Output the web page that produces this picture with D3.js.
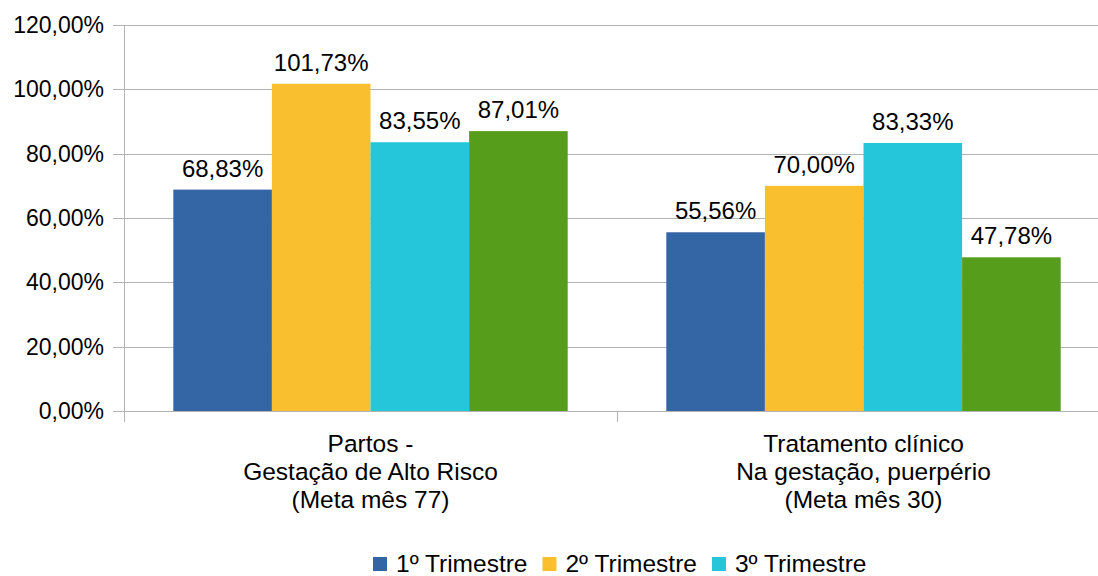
<!DOCTYPE html>
<html>
<head>
<meta charset="utf-8">
<script src="https://cdn.jsdelivr.net/npm/d3@7"></script>
<style>
  body { margin: 0; background: #fff; }
  svg { display: block; font-family: 'Liberation Sans', Arial, sans-serif; }
</style>
</head>
<body>
<svg width="1098" height="576"></svg>
<script>
// chart data
const categories = [
  ['Partos -', 'Gestação de Alto Risco', '(Meta mês 77)'],
  ['Tratamento clínico', 'Na gestação, puerpério', '(Meta mês 30)'],
]
const seriesNames = ['1º Trimestre', '2º Trimestre', '3º Trimestre', '4º Trimestre']
const seriesColors = ['#3465a4', '#f9bf2e', '#26c6da', '#579d1c']
const values = [
  [68.83, 101.73, 83.55, 87.01],
  [55.56, 70.0, 83.33, 47.78],
]
const yTicks = [0, 20, 40, 60, 80, 100, 120]
const legendItems = [0, 1, 2] // the 4th series has no legend entry

const svg = d3.select('svg')
const fmt = (v) => v.toFixed(2).replace('.', ',') + '%'

const plotLeft = 124,
  plotRight = 1110,
  plotTop = 25,
  plotBottom = 411

const y = d3.scaleLinear().domain([0, 120]).range([plotBottom, plotTop])
const x0 = d3
  .scaleBand()
  .domain(d3.range(categories.length))
  .range([plotLeft, plotRight])
  .paddingInner(0.2)
  .paddingOuter(0.1)
const x1 = d3
  .scaleBand()
  .domain(d3.range(seriesNames.length))
  .range([0, x0.bandwidth()])

// gridlines + y labels
const grid = svg.append('g')
grid
  .selectAll('line')
  .data(yTicks)
  .enter()
  .append('line')
  .attr('x1', plotLeft - 11)
  .attr('x2', plotRight)
  .attr('y1', (d) => Math.round(y(d)) + 0.5)
  .attr('y2', (d) => Math.round(y(d)) + 0.5)
  .attr('stroke', '#b3b3b3')
  .attr('stroke-width', 1)

grid
  .selectAll('text')
  .data(yTicks)
  .enter()
  .append('text')
  .attr('x', plotLeft - 20)
  .attr('y', (d) => y(d) + 8)
  .attr('text-anchor', 'end')
  .attr('font-size', '23px')
  .attr('fill', '#000')
  .text((d) => fmt(d))

// bars
const groups = svg
  .append('g')
  .selectAll('g')
  .data(values)
  .enter()
  .append('g')
  .attr('transform', (d, i) => `translate(${x0(i)},0)`)

groups
  .selectAll('rect')
  .data((d) => d)
  .enter()
  .append('rect')
  .attr('x', (d, j) => x1(j))
  .attr('width', x1.bandwidth())
  .attr('y', (d) => y(d))
  .attr('height', (d) => plotBottom - y(d))
  .attr('fill', (d, j) => seriesColors[j])

groups
  .selectAll('text')
  .data((d) => d)
  .enter()
  .append('text')
  .attr('x', (d, j) => x1(j) + x1.bandwidth() / 2)
  .attr('y', (d) => y(d) - 13)
  .attr('text-anchor', 'middle')
  .attr('font-size', '24px')
  .attr('fill', '#000')
  .text((d) => fmt(d))

// axes lines
const axis = svg.append('g').attr('stroke', '#b3b3b3').attr('stroke-width', 1)
axis
  .append('line')
  .attr('x1', plotLeft + 0.5)
  .attr('x2', plotLeft + 0.5)
  .attr('y1', plotTop)
  .attr('y2', plotBottom + 11)
axis
  .append('line')
  .attr('x1', plotLeft)
  .attr('x2', plotRight)
  .attr('y1', Math.round(plotBottom) + 0.5)
  .attr('y2', Math.round(plotBottom) + 0.5)
axis
  .selectAll('.tick')
  .data(d3.range(categories.length + 1))
  .enter()
  .append('line')
  .attr('x1', (i) => Math.round(plotLeft + i * x0.step()) + 0.5)
  .attr('x2', (i) => Math.round(plotLeft + i * x0.step()) + 0.5)
  .attr('y1', plotBottom)
  .attr('y2', plotBottom + 11)

// category labels
svg
  .append('g')
  .selectAll('text')
  .data(categories)
  .enter()
  .append('text')
  .attr('text-anchor', 'middle')
  .attr('font-size', '24.5px')
  .attr('fill', '#000')
  .each(function (lines, i) {
    d3.select(this)
      .selectAll('tspan')
      .data(lines)
      .enter()
      .append('tspan')
      .attr('x', x0(i) + x0.bandwidth() / 2)
      .attr('y', (d, k) => 452 + k * 28)
      .text((d) => d)
  })

// legend
const legend = svg.append('g')
let lx = 373
legendItems.forEach((s) => {
  legend
    .append('rect')
    .attr('x', lx)
    .attr('y', 557)
    .attr('width', 14)
    .attr('height', 14)
    .attr('fill', seriesColors[s])
  const t = legend
    .append('text')
    .attr('x', lx + 23)
    .attr('y', 572)
    .attr('font-size', '24.5px')
    .attr('fill', '#000')
    .text(seriesNames[s])
  lx += 23 + t.node().getComputedTextLength() + 15
})
</script>
</body>
</html>
